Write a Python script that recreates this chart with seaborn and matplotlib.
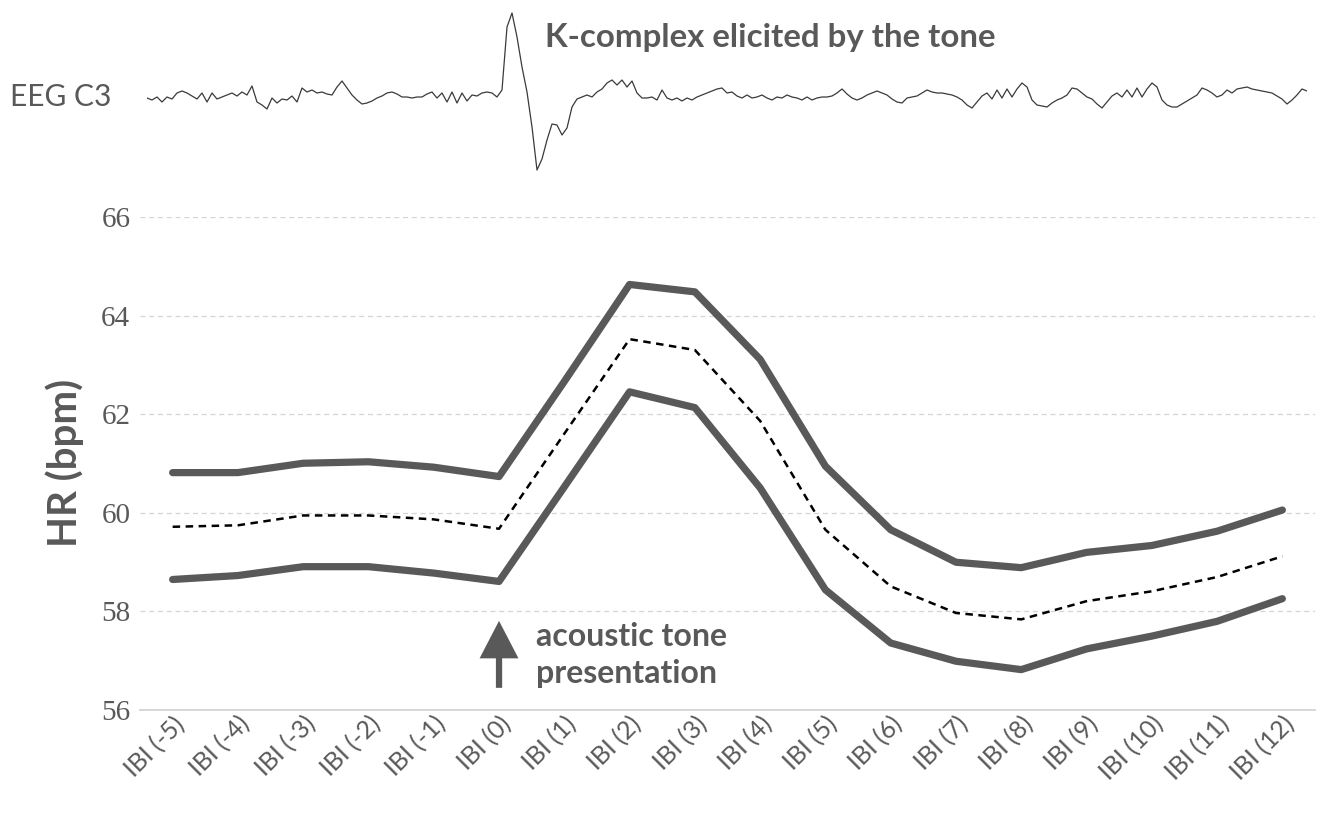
import numpy as np
import pandas as pd
import matplotlib
matplotlib.use("Agg")
import matplotlib.pyplot as plt
import seaborn as sns

# Inter-beat intervals around the tone (IBI 0 = interval containing the tone)
intervals = ["IBI (-5)", "IBI (-4)", "IBI (-3)", "IBI (-2)", "IBI (-1)", "IBI (0)",
             "IBI (1)", "IBI (2)", "IBI (3)", "IBI (4)", "IBI (5)", "IBI (6)",
             "IBI (7)", "IBI (8)", "IBI (9)", "IBI (10)", "IBI (11)", "IBI (12)"]

# Heart rate (bpm): mean and upper / lower confidence bounds
hr_upper = [60.81, 60.81, 61.00, 61.03, 60.92, 60.73, 62.66, 64.63, 64.48,
            63.11, 60.94, 59.65, 58.99, 58.88, 59.19, 59.33, 59.62, 60.05]
hr_mean = [59.71, 59.74, 59.94, 59.94, 59.86, 59.67, 61.60, 63.52, 63.30,
           61.86, 59.65, 58.50, 57.96, 57.83, 58.20, 58.40, 58.69, 59.11]
hr_lower = [58.64, 58.72, 58.90, 58.90, 58.77, 58.60, 60.52, 62.45, 62.13,
            60.50, 58.43, 57.35, 56.98, 56.81, 57.23, 57.49, 57.79, 58.25]

y_ticks = [56, 58, 60, 62, 64, 66]

# Example EEG trace from C3 (arbitrary amplitude units), tone-evoked K-complex
eeg_c3 = [-1, -3, 0, -5, 0, -2, 4, 6, 4, 1,
          -2, 4, -5, 4, -2, 0, 2, 4, 1, 5,
          2, 11, -5, -8, -12, -1, -6, -2, -3, 1,
          -5, 9, 5, 7, 4, 5, 3, 2, 10, 16,
          9, 2, -3, -7, -6, -4, -1, 1, 4, 5,
          3, 0, 0, -1, 0, 0, 3, 5, -1, 4,
          -5, 5, -6, 4, -4, 2, 1, 4, 5, 4,
          0, 7, 70, 84, 60, 30, 5, -30, -73, -62,
          -43, -27, -28, -38, -31, -10, -2, 0, 2, 0,
          5, 8, 14, 17, 12, 17, 10, 16, 4, -1,
          -1, 0, -3, 7, -1, -3, -1, -4, -1, -3,
          0, 2, 4, 6, 8, 9, 4, 5, 1, -1,
          2, -1, 0, 2, -1, -3, 0, -1, 2, 0,
          -1, -3, 0, -3, -1, 0, 0, 1, 4, 8,
          3, -1, -3, -1, 2, 4, 6, 4, 2, -2,
          -5, -6, -1, 0, 1, 4, 7, 5, 4, 4,
          3, 2, 0, -3, -8, -11, -5, 1, 4, -2,
          7, -1, 8, 0, 8, 14, 10, -3, -8, -9,
          -10, -6, -3, -1, 2, 9, 8, 4, 0, -2,
          -7, -11, -5, 1, 4, 0, 7, 0, 9, 0,
          8, 14, 10, -3, -8, -10, -10, -7, -4, -1,
          2, 9, 7, 4, 0, 2, 7, 4, 8, 9,
          10, 8, 7, 6, 5, 4, 1, -2, -7, -3,
          2, 8, 6]

GRAY = "#595959"
GRID = "#d4d4d4"

sns.set_theme(style="white")
plt.rcParams["font.family"] = ["Lato", "DejaVu Sans"]

W, H = 1323, 831
fig = plt.figure(figsize=(W / 100, H / 100), dpi=100)

# ---- main heart-rate panel ----
ax = fig.add_axes([140 / W, 1 - 709.5 / H, 1175 / W, 492.5 / H])

band_style = dict(color=GRAY, linewidth=5.2, solid_capstyle="round",
                  solid_joinstyle="round")
sns.lineplot(x=intervals, y=hr_upper, ax=ax, sort=False, **band_style)
sns.lineplot(x=intervals, y=hr_lower, ax=ax, sort=False, **band_style)
sns.lineplot(x=intervals, y=hr_mean, ax=ax, sort=False, color="black",
             linewidth=1.8, linestyle=(0, (3, 2.2)))

ax.set_xlim(-0.5, len(intervals) - 0.5)
ax.set_ylim(56, 66)
ax.set_yticks(y_ticks)
ax.set_yticklabels([str(t) for t in y_ticks], family="Liberation Serif",
                   fontsize=21, color=GRAY)
ax.yaxis.grid(True, color=GRID, linestyle=(0, (4, 3)), linewidth=0.9)
ax.xaxis.grid(False)
for side in ("left", "right", "top"):
    ax.spines[side].set_visible(False)
ax.spines["bottom"].set_color(GRID)
ax.spines["bottom"].set_linewidth(1.3)
ax.tick_params(axis="both", length=0)
ax.tick_params(axis="y", pad=7)
ax.tick_params(axis="x", pad=2)
ax.set_xticks(range(len(intervals)))
ax.set_xticklabels(intervals, rotation=45, ha="right", rotation_mode="anchor",
                   fontsize=18, color=GRAY)
ax.set_xlabel("")
ax.set_ylabel("HR (bpm)", fontsize=29, fontweight="bold", color=GRAY, labelpad=12)

# tone onset marker
ax.annotate("", xy=(5, 57.80), xytext=(5, 56.44),
            arrowprops=dict(arrowstyle="simple,head_length=2.7,head_width=2.8,tail_width=0.45",
                            mutation_scale=10, color=GRAY, shrinkA=0, shrinkB=0, lw=0))
ax.text(5.57, 57.10, "acoustic tone\npresentation", fontsize=23, fontweight="bold",
        color=GRAY, ha="left", va="center", linespacing=1.32)

# ---- EEG trace panel ----
ax_eeg = fig.add_axes([147 / W, 1 - 180 / H, 1160 / W, 170 / H])
sns.lineplot(x=np.arange(len(eeg_c3)), y=eeg_c3, ax=ax_eeg, color="#3a3a3a",
             linewidth=0.9)
ax_eeg.set_xlim(0, len(eeg_c3) - 1)
ax_eeg.set_ylim(-83, 87)
ax_eeg.axis("off")

fig.text(10 / W, 1 - 97 / H, "EEG C3", fontsize=21.5, color=GRAY, ha="left",
         va="center")
fig.text(545 / W, 1 - 38 / H, "K-complex elicited by the tone", fontsize=23.8,
         fontweight="bold", color=GRAY, ha="left", va="center")

fig.savefig("out.png", dpi=100)
